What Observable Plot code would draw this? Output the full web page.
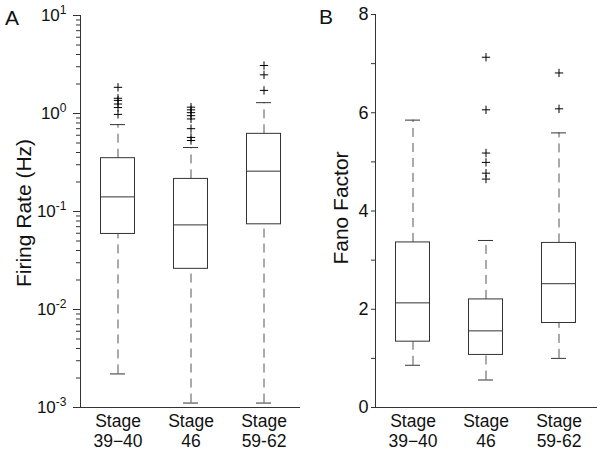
<!DOCTYPE html>
<html>
<head>
<meta charset="utf-8">
<script src="https://cdn.jsdelivr.net/npm/d3@7"></script>
<script src="https://cdn.jsdelivr.net/npm/@observablehq/plot@0.6"></script>
<style>
  body { margin: 0; background: #fff; font-family: "Liberation Sans", Arial, sans-serif; }
  #wrap { position: relative; width: 600px; height: 450px; display: flex; }
  .lbl { position: absolute; white-space: nowrap; font-size: 20px; color: #111; line-height: 1; }
  .rot { transform: translate(-50%, -50%) rotate(-90deg); }
</style>
</head>
<body>
<div id="wrap">
  <div id="pa"></div>
  <div id="pb"></div>
  <div class="lbl" style="left:5px; top:7px; font-size:21px;">A</div>
  <div class="lbl" style="left:319px; top:6px; font-size:21px;">B</div>
  <div class="lbl rot" style="left:23px; top:213px; font-size:21px;">Firing Rate (Hz)</div>
  <div class="lbl rot" style="left:340px; top:208px; font-size:21px;">Fano Factor</div>
</div>
<script>
// categories
const stages = ["Stage\n39\u221240", "Stage\n46", "Stage\n59-62"];

// Panel A: firing rate (Hz), box-plot summary per stage
const frQ1  = [0.059, 0.026, 0.074];
const frMed = [0.141, 0.073, 0.258];
const frQ3  = [0.35, 0.215, 0.62];
const frLo  = [0.0022, 0.00111, 0.00111];
const frHi  = [0.77, 0.45, 1.29];
const frOut = [
  [1.85, 1.43, 1.36, 1.25, 1.15, 0.98],
  [1.16, 1.09, 1.02, 0.95, 0.88, 0.70, 0.57, 0.53],
  [3.09, 2.48, 1.72]
];
const frMajor = [0.001, 0.01, 0.1, 1, 10];

// Panel B: Fano factor
const ffQ1  = [1.34, 1.07, 1.72];
const ffMed = [2.13, 1.56, 2.52];
const ffQ3  = [3.36, 2.20, 3.35];
const ffLo  = [0.86, 0.56, 1.00];
const ffHi  = [5.85, 3.40, 5.59];
const ffOut = [
  [],
  [7.13, 6.06, 5.18, 4.99, 4.77, 4.65],
  [6.81, 6.08]
];
const ffMajor = [0, 2, 4, 6, 8];
const ffMinor = [1, 3, 5, 7];

const frMinor = [];
for (let e = -3; e < 1; e++) for (let m = 2; m <= 9; m++) frMinor.push(m * Math.pow(10, e));

function rowsOf(q1, med, q3, lo, hi) {
  return stages.map((s, i) => ({stage: s, q1: q1[i], med: med[i], q3: q3[i], lo: lo[i], hi: hi[i]}));
}
function outOf(out) {
  const r = [];
  out.forEach((arr, i) => arr.forEach(v => r.push({stage: stages[i], v})));
  return r;
}

const BOX = "#333";
const WH = "#555";
const FONT = "Liberation Sans, Arial, sans-serif";

function boxMarks(rows, outs) {
  return [
    Plot.ruleX(rows, {x: "stage", y1: "q3", y2: "hi", stroke: WH, strokeDasharray: "9,6"}),
    Plot.ruleX(rows, {x: "stage", y1: "lo", y2: "q1", stroke: WH, strokeDasharray: "9,6"}),
    Plot.tickY(rows, {x: "stage", y: "hi", stroke: BOX, insetLeft: 29, insetRight: 29}),
    Plot.tickY(rows, {x: "stage", y: "lo", stroke: BOX, insetLeft: 29, insetRight: 29}),
    Plot.barY(rows, {x: "stage", y1: "q1", y2: "q3", fill: "white", stroke: BOX, insetLeft: 19.5, insetRight: 19.5}),
    Plot.tickY(rows, {x: "stage", y: "med", stroke: BOX, insetLeft: 19.5, insetRight: 19.5}),
    Plot.dot(outs, {x: "stage", y: "v", symbol: "plus", r: 2.8, stroke: "#000", strokeWidth: 1})
  ];
}

const plotA = Plot.plot({
  width: 300, height: 450,
  marginLeft: 80, marginRight: 0, marginTop: 15, marginBottom: 43,
  style: {fontFamily: FONT, color: "#111", background: "white"},
  x: {type: "band", domain: stages, padding: 0, axis: null},
  y: {type: "log", domain: [0.001, 10], axis: null},
  marks: [
    ...boxMarks(rowsOf(frQ1, frMed, frQ3, frLo, frHi), outOf(frOut)),
    Plot.frame({anchor: "left", stroke: BOX}),
    Plot.frame({anchor: "bottom", stroke: BOX}),
    Plot.axisY({ticks: frMajor, tickSize: 7, tickPadding: 7, fontSize: 17, label: null,
                stroke: BOX, tickFormat: d => "10^" + Math.round(Math.log10(d))}),
    Plot.axisY({ticks: frMinor, tickSize: 4, tickFormat: () => "", label: null, stroke: BOX}),
    Plot.axisX({tickSize: 0, tickPadding: 5, fontSize: 17.5, lineHeight: 1.15, label: null})
  ]
});

const plotB = Plot.plot({
  width: 300, height: 450,
  marginLeft: 75, marginRight: 4, marginTop: 14, marginBottom: 43,
  style: {fontFamily: FONT, color: "#111", background: "white"},
  x: {type: "band", domain: stages, padding: 0, axis: null},
  y: {type: "linear", domain: [0, 8], axis: null},
  marks: [
    ...boxMarks(rowsOf(ffQ1, ffMed, ffQ3, ffLo, ffHi), outOf(ffOut)),
    Plot.frame({anchor: "left", stroke: BOX}),
    Plot.frame({anchor: "bottom", stroke: BOX}),
    Plot.axisY({ticks: ffMajor, tickSize: 4, tickPadding: 3, fontSize: 18, label: null, stroke: BOX}),
    Plot.axisY({ticks: ffMinor, tickSize: 4, tickFormat: () => "", label: null, stroke: BOX}),
    Plot.axisX({tickSize: 0, tickPadding: 5, fontSize: 17.5, lineHeight: 1.15, label: null})
  ]
});

// superscript exponents on the log axis labels
plotA.querySelectorAll("text").forEach(t => {
  const s = t.textContent;
  const m = /^10\^(-?\d+)$/.exec(s);
  if (m) {
    t.textContent = "10";
    const ts = document.createElementNS("http://www.w3.org/2000/svg", "tspan");
    ts.setAttribute("dy", "-0.55em");
    ts.setAttribute("font-size", "12");
    ts.textContent = m[1];
    t.appendChild(ts);
  }
});

document.getElementById("pa").appendChild(plotA);
document.getElementById("pb").appendChild(plotB);
</script>
</body>
</html>
